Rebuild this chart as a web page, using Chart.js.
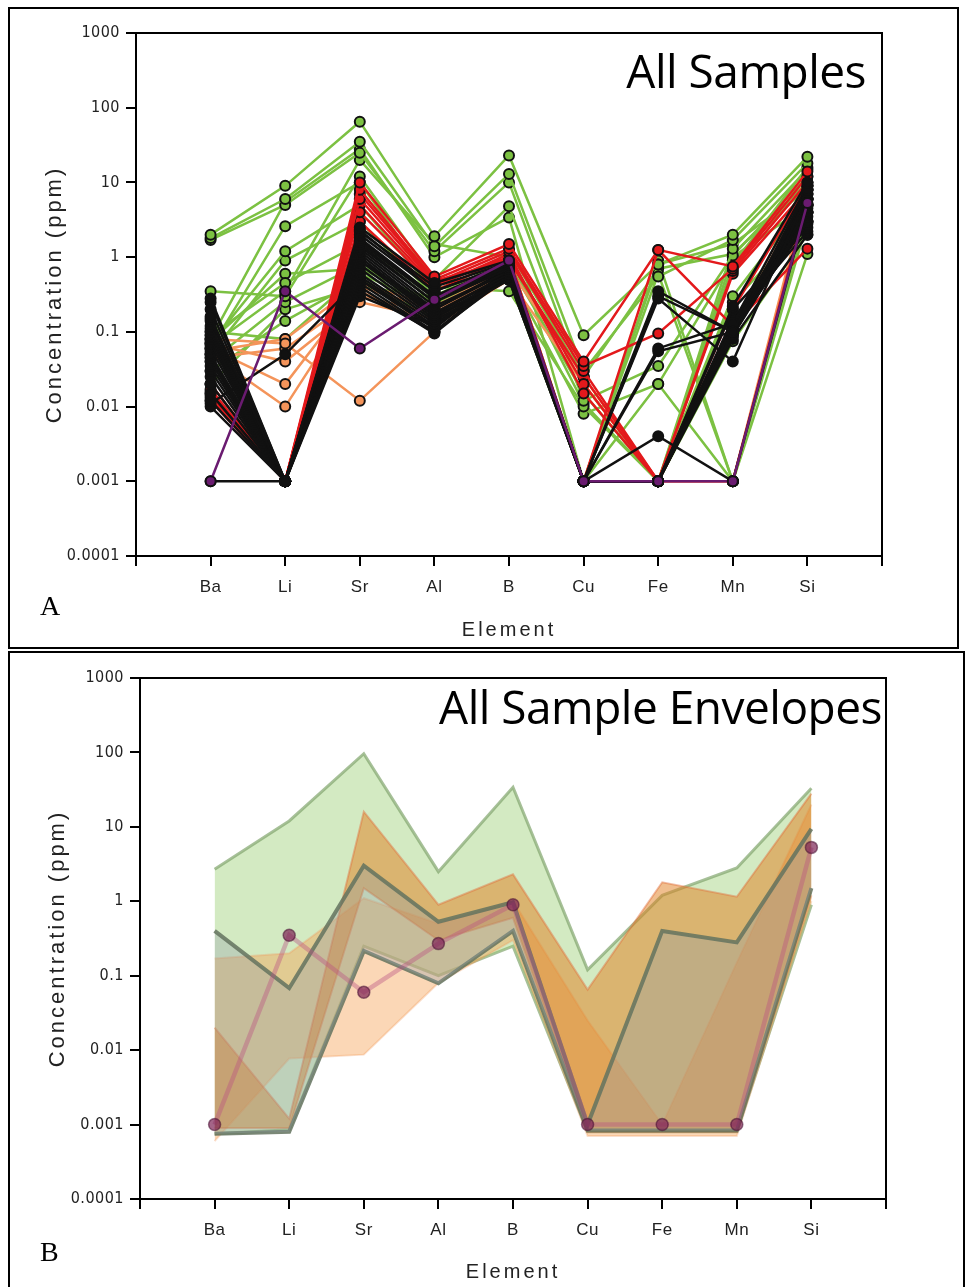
<!DOCTYPE html>
<html>
<head>
<meta charset="utf-8">
<script src="https://cdn.jsdelivr.net/npm/chart.js@4.4.1/dist/chart.umd.min.js"></script>
<style>
body { margin: 0; background: #fff; width: 966px; height: 1287px; position: relative; overflow: hidden; }
.frame { position: absolute; border: 2px solid #000; box-sizing: border-box; pointer-events: none; }
#frameA { left: 8px; top: 7px; width: 951px; height: 642px; }
#frameB { left: 8px; top: 651px; width: 957px; height: 645px; }
canvas { position: absolute; left: 0; }
#chartA { top: 0; }
#chartB { top: 650px; }
.title { position: absolute; font-family: 'Open Sans', sans-serif; font-size: 46px; color: #000; white-space: nowrap; line-height: 1; letter-spacing: -0.5px; }
.panel { position: absolute; font-family: 'Liberation Serif', serif; font-size: 28px; color: #000; line-height: 1; }
</style>
</head>
<body>
<canvas id="chartA" width="966" height="650"></canvas>
<canvas id="chartB" width="966" height="637"></canvas>
<div class="frame" id="frameA"></div>
<div class="frame" id="frameB"></div>
<div class="title" style="right:100px; top:47px;">All Samples</div>
<div class="title" style="right:84px; top:683px;">All Sample Envelopes</div>
<div class="panel" style="left:40px; top:592px;">A</div>
<div class="panel" style="left:40px; top:1238px;">B</div>
<script>
const elements = ['Ba', 'Li', 'Sr', 'Al', 'B', 'Cu', 'Fe', 'Mn', 'Si'];
const yTicks = [0.0001, 0.001, 0.01, 0.1, 1, 10, 100, 1000];
const yTickLabels = ['0.0001', '0.001', '0.01', '0.1', '1', '10', '100', '1000'];

// panel A samples, values in element order
const greenSamples = [
  [2.0, 9, 65, 1.9, 23, 0.09, 0.8, 2.0, 22],
  [1.8, 6, 35, 1.4, 13, 0.03, 0.55, 1.7, 18],
  [1.7, 5, 25, 1.2, 10, 0.02, 0.001, 1.3, 15],
  [0.35, 0.3, 12, 0.5, 4.8, 0.012, 0.035, 1.05, 12],
  [0.08, 5.5, 28, 1.0, 3.4, 0.001, 0.02, 0.9, 9],
  [0.06, 2.6, 10, 0.4, 0.35, 0.01, 0.001, 0.3, 6],
  [0.07, 1.2, 5, 0.35, 1.0, 0.001, 0.8, 1.5, 8],
  [0.05, 0.9, 3, 0.3, 0.8, 0.015, 0.001, 0.25, 3],
  [0.09, 0.45, 1.5, 0.25, 0.6, 0.008, 0.02, 0.001, 1.1],
  [0.04, 0.25, 0.8, 0.2, 0.7, 0.001, 0.001, 0.075, 2],
  [0.03, 0.14, 0.5, 0.15, 0.5, 0.001, 0.6, 0.001, 4],
  [0.02, 0.2, 0.4, 0.3, 0.9, 0.001, 0.001, 1.0, 5],
  [0.1, 0.08, 0.6, 0.22, 1.2, 0.025, 0.7, 1.1, 10],
  [0.065, 0.35, 20, 1.5, 1.0, 0.011, 0.001, 0.8, 16],
  [0.075, 0.6, 0.7, 0.25, 0.9, 0.001, 0.9, 0.001, 3]
];
const orangeSamples = [
  [0.07, 0.04, 0.25, 0.15, 0.55, 0.001, 0.001, 0.1, 5],
  [0.06, 0.02, 0.4, 0.2, 0.6, 0.001, 0.001, 0.1, 6],
  [0.05, 0.01, 0.35, 0.12, 0.5, 0.02, 0.001, 0.001, 8],
  [0.08, 0.07, 0.012, 0.1, 0.6, 0.001, 0.001, 0.1, 4],
  [0.045, 0.06, 0.3, 0.18, 0.65, 0.001, 0.001, 0.12, 7],
  [0.055, 0.08, 0.45, 0.22, 0.7, 0.025, 0.001, 0.09, 9]
];
const redSamples = [
  [0.017, 0.001, 10, 0.55, 1.5, 0.04, 1.25, 0.75, 14],
  [0.015, 0.001, 8, 0.5, 1.3, 0.035, 0.095, 0.7, 12],
  [0.013, 0.001, 6, 0.45, 1.2, 0.03, 0.001, 0.65, 10],
  [0.012, 0.001, 4, 0.4, 1.1, 0.015, 0.001, 0.6, 8],
  [0.02, 0.001, 3, 0.35, 1.0, 0.001, 1.25, 0.12, 1.3],
  [0.014, 0.001, 5, 0.42, 1.0, 0.02, 0.001, 0.001, 6],
  [0.016, 0.001, 7, 0.48, 0.9, 0.025, 0.001, 0.2, 9]
];
const blackSamples = [
  [0.28, 0.001, 2.5, 0.45, 0.9, 0.001, 0.001, 0.22, 10],
  [0.25, 0.001, 2.2, 0.4, 0.85, 0.001, 0.35, 0.1, 8],
  [0.16, 0.001, 2.0, 0.35, 0.8, 0.001, 0.28, 0.04, 7],
  [0.15, 0.001, 1.8, 0.3, 0.75, 0.001, 0.06, 0.13, 6],
  [0.14, 0.001, 1.6, 0.28, 0.7, 0.001, 0.004, 0.001, 5],
  [0.12, 0.001, 1.5, 0.25, 0.7, 0.001, 0.001, 0.1, 4.5],
  [0.11, 0.001, 1.3, 0.22, 0.65, 0.001, 0.001, 0.12, 4],
  [0.1, 0.001, 1.2, 0.2, 0.65, 0.001, 0.001, 0.09, 3.5],
  [0.09, 0.001, 1.1, 0.18, 0.6, 0.001, 0.055, 0.1, 3],
  [0.08, 0.001, 1.0, 0.17, 0.6, 0.001, 0.001, 0.11, 2.8],
  [0.07, 0.001, 0.9, 0.16, 0.55, 0.001, 0.001, 0.2, 2.5],
  [0.06, 0.001, 0.8, 0.15, 0.55, 0.001, 0.001, 0.15, 2.2],
  [0.05, 0.001, 0.7, 0.14, 0.5, 0.001, 0.001, 0.08, 2],
  [0.045, 0.001, 0.6, 0.13, 0.5, 0.001, 0.001, 0.1, 6],
  [0.04, 0.001, 0.55, 0.12, 0.6, 0.001, 0.001, 0.12, 5],
  [0.035, 0.001, 0.5, 0.11, 0.7, 0.001, 0.001, 0.1, 7],
  [0.03, 0.001, 0.45, 0.1, 0.65, 0.001, 0.001, 0.09, 4],
  [0.025, 0.001, 0.4, 0.095, 0.6, 0.001, 0.001, 0.11, 3],
  [0.02, 0.001, 0.35, 0.1, 0.55, 0.001, 0.001, 0.1, 8],
  [0.015, 0.001, 0.3, 0.12, 0.7, 0.001, 0.001, 0.13, 9],
  [0.012, 0.001, 1.7, 0.3, 0.8, 0.001, 0.001, 0.1, 6],
  [0.01, 0.001, 1.4, 0.25, 0.75, 0.001, 0.001, 0.1, 5],
  [0.011, 0.05, 0.5, 0.12, 0.6, 0.001, 0.001, 0.1, 4],
  [0.001, 0.001, 2.3, 0.35, 0.8, 0.001, 0.001, 0.1, 6],
  [0.2, 0.001, 0.9, 0.2, 0.7, 0.001, 0.3, 0.1, 5]
];
const purpleSample = [0.001, 0.35, 0.06, 0.27, 0.9, 0.001, 0.001, 0.001, 5.3];

// panel B envelopes (upper / lower bounds)
const greenUpper = [2.7, 12, 96, 2.5, 34, 0.12, 1.2, 2.8, 33];
const greenLower = [0.00075, 0.00085, 0.25, 0.1, 0.25, 0.0008, 0.0008, 0.0008, 0.9];
const orangeUpper = [0.17, 0.2, 1.1, 0.5, 1.0, 0.025, 0.001, 0.15, 20];
const orangeLower = [0.0006, 0.0077, 0.0087, 0.08, 0.3, 0.0007, 0.0007, 0.0007, 1.0];
const redUpper = [0.02, 0.0012, 16, 0.9, 2.3, 0.065, 1.8, 1.15, 28];
const redLower = [0.0009, 0.0009, 1.5, 0.3, 0.6, 0.0008, 0.0008, 0.0008, 1.2];
const blackUpper = [0.4, 0.068, 3.0, 0.53, 0.97, 0.001, 0.4, 0.28, 9.4];
const blackLower = [0.00075, 0.0008, 0.215, 0.079, 0.4, 0.00083, 0.00083, 0.00083, 1.5];
const purpleLine = [0.001, 0.35, 0.06, 0.27, 0.9, 0.001, 0.001, 0.001, 5.3];

const xLabels = [''].concat(elements, ['']);

function pts(vals) {
  return vals.map((v, i) => ({ x: i + 1, y: v }));
}

// axis titles are drawn before the datasets, tick labels after them (ticks z: 1)
const spacing = {
  id: 'spacing',
  beforeUpdate(chart) { chart.ctx.letterSpacing = '0.5px'; },
  beforeDraw(chart) { chart.ctx.letterSpacing = '3px'; },
  beforeDatasetsDraw(chart) { chart.ctx.letterSpacing = '0.5px'; }
};
const plotBox = {
  id: 'plotBox',
  afterDraw(chart) {
    const a = chart.chartArea, ctx = chart.ctx;
    ctx.save();
    ctx.strokeStyle = '#000';
    ctx.lineWidth = 2;
    ctx.strokeRect(a.left, a.top, a.right - a.left, a.bottom - a.top);
    ctx.restore();
  }
};

function makeOptions(yWidth, xHeight, pad, xTitlePad, yTitlePad) {
  return {
    responsive: false,
    animation: false,
    layout: { padding: pad },
    plugins: { legend: { display: false }, tooltip: { enabled: false } },
    scales: {
      x: {
        type: 'linear', min: 0, max: 10,
        afterBuildTicks: s => { s.ticks = xLabels.map((l, i) => ({ value: i })); },
        afterFit: s => { s.height = xHeight; },
        ticks: {
          callback: v => xLabels[v],
          color: '#222', padding: 11, autoSkip: false, maxRotation: 0, z: 1,
          font: { family: "'Liberation Sans', Arial, sans-serif", size: 17 }
        },
        grid: { display: true, drawOnChartArea: false, drawTicks: true, tickLength: 10, color: '#000', lineWidth: 2 },
        border: { display: true, color: '#000', width: 2 },
        title: {
          display: true, text: 'Element', color: '#222',
          font: { family: "'Liberation Sans', Arial, sans-serif", size: 20 },
          padding: { top: 0, bottom: xTitlePad }
        }
      },
      y: {
        type: 'logarithmic', min: 0.0001, max: 1000,
        afterBuildTicks: s => { s.ticks = yTicks.map(v => ({ value: v })); },
        afterFit: s => { s.width = yWidth; },
        ticks: {
          callback: v => yTickLabels[yTicks.indexOf(v)],
          color: '#222', padding: 6, autoSkip: false, z: 1,
          font: { family: "'Liberation Sans Narrow', 'DejaVu Sans Condensed', sans-serif", size: 16 }
        },
        grid: { display: true, drawOnChartArea: false, drawTicks: true, tickLength: 10, color: '#000', lineWidth: 2 },
        border: { display: true, color: '#000', width: 2 },
        title: {
          display: true, text: 'Concentration (ppm)', color: '#222',
          font: { family: "'Liberation Sans', Arial, sans-serif", size: 22 },
          padding: { top: yTitlePad, bottom: 0 }
        }
      }
    }
  };
}

// ---- panel A ----
function sampleSet(vals, line, fill, order, width) {
  return {
    data: pts(vals),
    borderColor: line,
    borderWidth: width,
    pointRadius: 5,
    pointBorderWidth: 2,
    pointBorderColor: '#111',
    pointBackgroundColor: fill,
    fill: false,
    tension: 0,
    order: order
  };
}
const setsA = [];
setsA.push(sampleSet(purpleSample, '#6a1b70', '#6a1b70', 0, 2.5));
blackSamples.forEach(s => setsA.push(sampleSet(s, '#111', '#111', 1, 2.5)));
redSamples.forEach(s => setsA.push(sampleSet(s, '#e3191c', '#e3191c', 2, 2.5)));
orangeSamples.forEach(s => setsA.push(sampleSet(s, '#f4945a', '#f4945a', 3, 2.5)));
greenSamples.forEach(s => setsA.push(sampleSet(s, '#7cc142', '#7cc142', 4, 2.5)));

new Chart(document.getElementById('chartA'), {
  type: 'line',
  data: { datasets: setsA },
  options: makeOptions(96, 94, { left: 40, top: 33, right: 84, bottom: 0 }, 8, 2),
  plugins: [spacing, plotBox]
});

// ---- panel B ----
function envelope(upper, lower, fillColor, edgeColor, edgeWidth, order) {
  return [
    { data: pts(upper), borderColor: edgeColor, borderWidth: edgeWidth, backgroundColor: fillColor,
      fill: '+1', pointRadius: 0, tension: 0, order: order },
    { data: pts(lower), borderColor: edgeColor, borderWidth: edgeWidth, backgroundColor: fillColor,
      fill: false, pointRadius: 0, tension: 0, order: order }
  ];
}
const setsB = [].concat(
  [{ data: pts(purpleLine), borderColor: 'rgba(185,80,130,0.4)', borderWidth: 4.5,
     pointRadius: 6, pointBorderWidth: 1.5, pointBorderColor: 'rgba(70,15,50,0.55)',
     pointBackgroundColor: 'rgba(125,35,85,0.7)', fill: false, tension: 0, order: 0 }],
  envelope(blackUpper, blackLower, 'rgba(150,160,170,0.35)', 'rgba(100,115,95,0.85)', 4, 1),
  envelope(redUpper, redLower, 'rgba(225,125,30,0.5)', 'rgba(225,110,60,0.45)', 2, 2),
  envelope(orangeUpper, orangeLower, 'rgba(246,160,80,0.42)', 'rgba(240,150,90,0.3)', 2, 3),
  envelope(greenUpper, greenLower, 'rgba(150,205,110,0.42)', 'rgba(130,165,110,0.7)', 3, 4)
);

new Chart(document.getElementById('chartB'), {
  type: 'line',
  data: { datasets: setsB },
  options: makeOptions(96, 88, { left: 44, top: 28, right: 80, bottom: 0 }, 3, 1),
  plugins: [spacing, plotBox]
});
</script>
</body>
</html>
